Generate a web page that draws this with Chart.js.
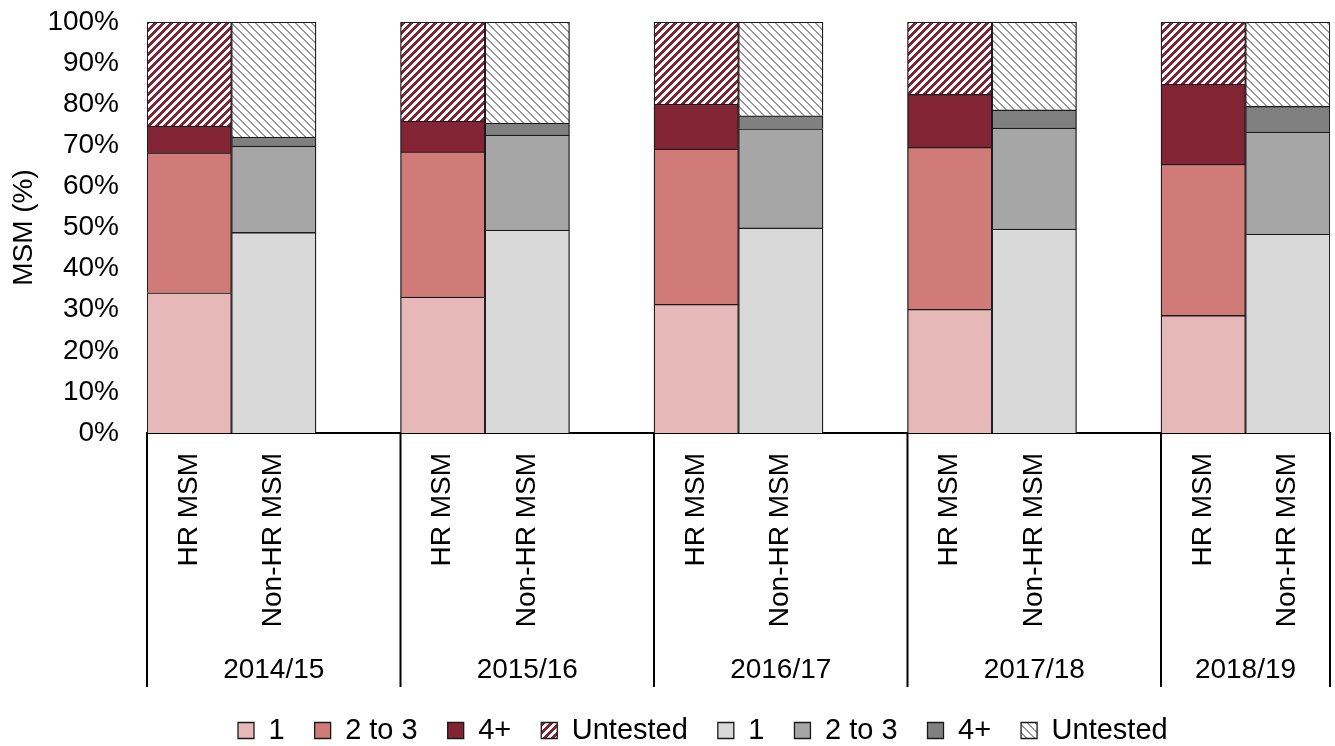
<!DOCTYPE html>
<html><head><meta charset="utf-8">
<script src="https://cdn.jsdelivr.net/npm/chart.js@4/dist/chart.umd.min.js"></script>
<style>html,body{margin:0;padding:0;background:#fff;overflow:hidden}</style>
</head><body>
<canvas id="c" width="1335" height="746" style="width:1335px;height:746px;display:block"></canvas>
<script>
// ---- data ----
const years = ['2014/15','2015/16','2016/17','2017/18','2018/19'];
const groups = ['HR MSM','Non-HR MSM'];
const seriesNames = ['1','2 to 3','4+','Untested'];
const hr1        = [34.1, 33.1, 31.3, 30.1, 28.6];
const hr2to3     = [34.1, 35.3, 37.8, 39.4, 36.8];
const hr4plus    = [6.5, 7.5, 10.9, 12.9, 19.5];
const hrUntested = [25.3, 24.1, 20.0, 17.6, 15.1];
const non1        = [48.8, 49.4, 49.9, 49.6, 48.4];
const non2to3     = [21.0, 23.1, 24.1, 24.6, 24.8];
const non4plus    = [2.2, 2.9, 3.2, 4.4, 6.3];
const nonUntested = [28.0, 24.6, 22.8, 21.4, 20.5];
const yTickValues = [0,10,20,30,40,50,60,70,80,90,100];

// ---- build category slots (HR, Non-HR, spacer) ----
const labels = [];
years.forEach((y, i) => {
  labels.push(groups[0]);
  labels.push(groups[1]);
  if (i < years.length - 1) labels.push('');
});
function place(values, groupIdx) {
  const out = labels.map(() => null);
  values.forEach((v, i) => { out[i * 3 + groupIdx] = v; });
  return out;
}

// ---- patterns ----
function makePattern(color, dir) {
  const c = document.createElement('canvas');
  c.width = 8; c.height = 8;
  const g = c.getContext('2d');
  g.fillStyle = '#ffffff'; g.fillRect(0, 0, 8, 8);
  g.fillStyle = color;
  for (let x = 0; x < 8; x++) for (let y = 0; y < 8; y++) {
    if (dir === 'up') { if (((x + y) % 8) < 4) g.fillRect(x, y, 1, 1); }
    else { if ((((x - y) % 8) + 8) % 8 < 2) g.fillRect(x, y, 1, 1); }
  }
  return document.getElementById('c').getContext('2d').createPattern(c, 'repeat');
}
const redHatch = makePattern('#832434', 'up');
const grayHatch = makePattern('#9a9a9a', 'down');

const hrColors = ['#E6B8B7', '#D07B78', '#832434', redHatch];
const nonColors = ['#D9D9D9', '#A6A6A6', '#808080', grayHatch];
const hrData = [hr1, hr2to3, hr4plus, hrUntested];
const nonData = [non1, non2to3, non4plus, nonUntested];

const datasets = [];
hrData.forEach((d, i) => datasets.push({
  label: seriesNames[i], data: place(d, 0), backgroundColor: hrColors[i],
  borderColor: '#1a1a1a', borderWidth: 1.3, barPercentage: 1, categoryPercentage: 1
}));
nonData.forEach((d, i) => datasets.push({
  label: seriesNames[i], data: place(d, 1), backgroundColor: nonColors[i],
  borderColor: '#1a1a1a', borderWidth: 1.3, barPercentage: 1, categoryPercentage: 1
}));

const FONT = "'Liberation Sans', Arial, sans-serif";
Chart.defaults.font.family = FONT;
Chart.defaults.color = '#000';

const groupAxisPlugin = {
  id: 'groupAxis',
  afterLayout(chart) {
    const lg = chart.legend;
    if (lg) {
      lg.top += 9; lg.bottom += 9;
      const w = lg.right - lg.left;
      lg.left = 208; lg.right = 208 + w;
    }
  },
  afterDraw(chart) {
    const x = chart.scales.x;
    const ctx = chart.ctx;
    const area = chart.chartArea;
    const slot = x.getPixelForValue(1) - x.getPixelForValue(0);
    const edges = years.map((_, i) => x.getPixelForValue(i * 3) - slot / 2);
    edges.push(area.right);
    ctx.save();
    ctx.strokeStyle = '#000';
    ctx.lineWidth = 2;
    edges.forEach(e => {
      ctx.beginPath(); ctx.moveTo(e, area.bottom); ctx.lineTo(e, 687); ctx.stroke();
    });
    ctx.fillStyle = '#000';
    ctx.font = '28px ' + FONT;
    ctx.textAlign = 'center';
    ctx.textBaseline = 'middle';
    years.forEach((y, i) => {
      ctx.fillText(y, (edges[i] + edges[i + 1]) / 2, 670);
    });
    ctx.restore();
  }
};

new Chart(document.getElementById('c'), {
  type: 'bar',
  data: { labels, datasets },
  plugins: [groupAxisPlugin],
  options: {
    responsive: false,
    devicePixelRatio: 1,
    animation: false,
    layout: { padding: { top: 22, right: 5, left: 0, bottom: 0 } },
    plugins: {
      tooltip: { enabled: false },
      legend: {
        position: 'bottom',
        align: 'start',
        labels: { boxWidth: 16, boxHeight: 16, padding: 30, color: '#000', font: { size: 29 } }
      }
    },
    scales: {
      x: {
        stacked: true,
        grid: { display: false, drawTicks: false },
        border: { display: true, color: '#000', width: 2 },
        ticks: { autoSkip: false, minRotation: 90, maxRotation: 90, padding: 20, font: { size: 28 }, color: '#000' },
        afterFit(s) { s.height = 244; s.paddingLeft = 0; s.paddingRight = 0; }
      },
      y: {
        stacked: true,
        min: 0, max: 100,
        afterBuildTicks(s) { s.ticks = yTickValues.map(v => ({ value: v })); },
        grid: { display: false, drawTicks: false },
        border: { display: false },
        ticks: { padding: 28, font: { size: 28 }, color: '#000', callback: v => v + '%' },
        title: { display: true, text: 'MSM (%)', font: { size: 28 }, color: '#000', padding: { top: 7, bottom: 0 } },
        afterFit(s) { s.width = 147; s.paddingTop = 0; s.paddingBottom = 0; }
      }
    }
  }
});
</script>
</body></html>
